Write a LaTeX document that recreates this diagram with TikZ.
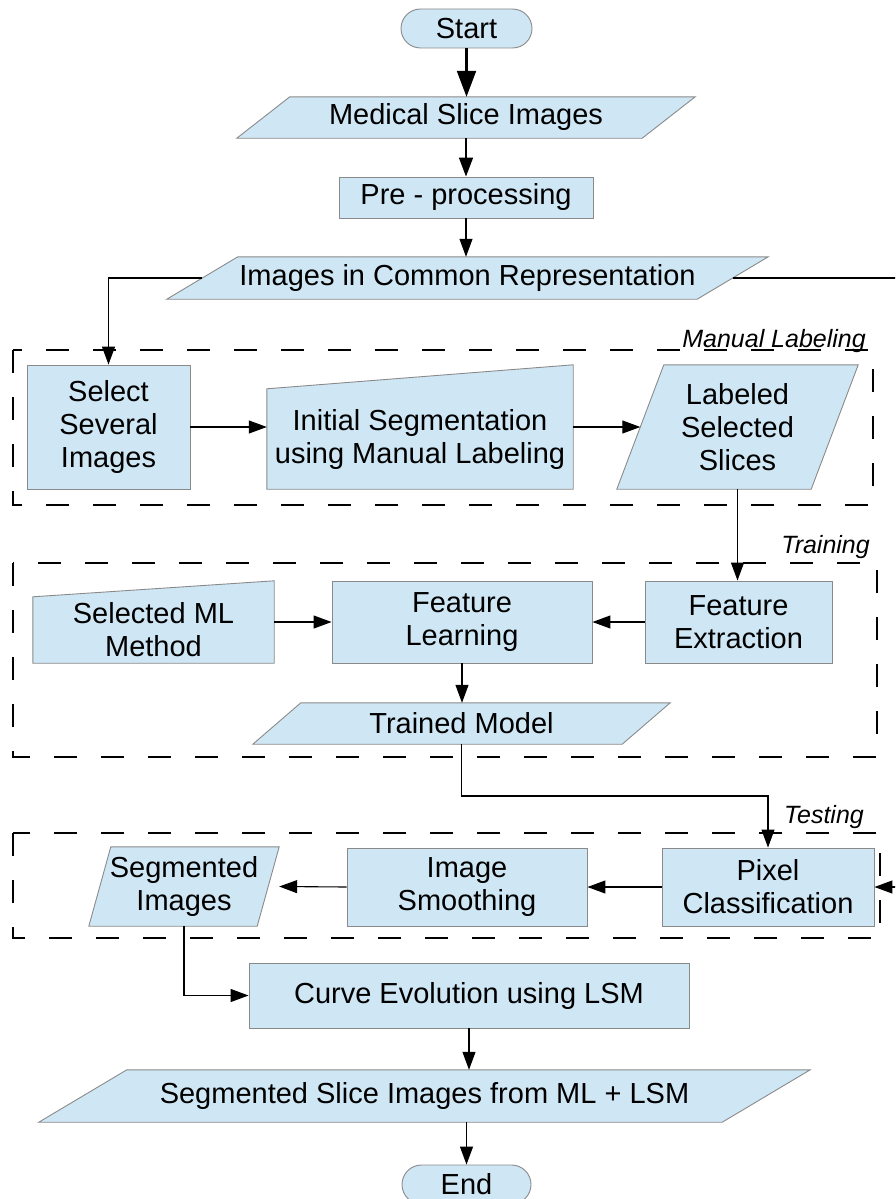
\documentclass[tikz,border=0pt]{standalone}
\usepackage{fontspec}
\setmainfont{Liberation Sans}
\usetikzlibrary{arrows.meta,backgrounds,calc}
\definecolor{boxfill}{HTML}{CFE7F5}
\definecolor{boxline}{HTML}{8A8A8A}
\newcommand\mynodefont{\fontsize{29}{33}\selectfont}
\newcommand\mylabelfont{\fontsize{25}{30}\selectfont\itshape}
\newcommand\paragram[2]{\draw[poly] ([xshift=#2]#1.north west) -- (#1.north east) -- ([xshift=-#2]#1.south east) -- (#1.south west) -- cycle;}
\newcommand\manualin[2]{\draw[poly] (#1.south west) -- (#1.north west) -- ([yshift=#2]#1.north east) -- (#1.south east) -- cycle;}
\tikzset{
  box/.style={draw=boxline, fill=boxfill, line width=0.9pt, inner sep=0pt, align=center, font=\mynodefont},
  body/.style={inner sep=0pt, align=center, font=\mynodefont},
  poly/.style={draw=boxline, fill=boxfill, line width=0.9pt},
  conn/.style={line width=1.1pt, -{Triangle[length=18pt,width=13pt]}},
  connmid/.style={line width=1.6pt, -{Triangle[length=19pt,width=14pt]}},
  connbig/.style={line width=2.2pt, -{Triangle[length=26pt,width=19pt]}},
  group/.style={draw=black, line width=2.6pt, dash pattern=on 23pt off 24pt},
  grouplabel/.style={font=\mylabelfont, anchor=base east, inner sep=0pt},
}
\begin{document}
\begin{tikzpicture}[x=1pt,y=-1pt]
\clip (0,0) rectangle (895,1199);

% groups
\draw[group] (13,350) rectangle (873,505);
\draw[group] (13,563) rectangle (877,757);
\draw[group] (13,833) rectangle (880,938);
\node[grouplabel] (lblman) at (866,347) {Manual Labeling};
\node[grouplabel] (lbltrain) at (870,553) {Training};
\node[grouplabel] (lbltest) at (864,823) {Testing};

% nodes
\node[box, rounded corners=19.5pt, minimum width=131pt, minimum height=39pt] (start) at (466.5,28.5) {Start};
\node[body, minimum width=458pt, minimum height=41pt] (med) at (466,117.5) {Medical Slice Images};
\node[box, minimum width=254pt, minimum height=41pt] (pre) at (466,197.5) {Pre - processing};
\node[body, minimum width=601pt, minimum height=42pt] (icr) at (467.5,278) {Images in Common Representation};

\node[box, minimum width=163pt, minimum height=124pt] (sel) at (108.5,427) {Select\\Several\\Images};
\node[body, minimum width=306pt, minimum height=100pt] (init) at (420,439) {Initial Segmentation\\using Manual Labeling};
\node[body, minimum width=241pt, minimum height=124pt] (lab) at (737.5,427) {Labeled\\Selected\\Slices};

\node[body, minimum width=241pt, minimum height=66pt] (ml) at (153.5,630) {Selected ML\\Method};
\node[box, minimum width=260pt, minimum height=82pt] (fl) at (462,622) {Feature\\Learning};
\node[box, minimum width=187pt, minimum height=82pt] (fe) at (738.5,622) {Feature\\Extraction};
\node[body, minimum width=417pt, minimum height=41pt] (tm) at (461.5,723.5) {Trained Model};

\node[body, minimum width=190pt, minimum height=79pt] (si) at (184,886.5) {Segmented\\Images};
\node[box, minimum width=240pt, minimum height=78pt] (is) at (467,887) {Image\\Smoothing};
\node[box, minimum width=212pt, minimum height=78pt] (pc) at (768,887) {Pixel\\Classification};

\node[box, minimum width=440pt, minimum height=65pt] (ce) at (469,995.5) {Curve Evolution using LSM};
\node[body, minimum width=771pt, minimum height=52pt] (ssi) at (424.5,1096) {Segmented Slice Images from ML + LSM};
\node[box, rounded corners=19.5pt, minimum width=129pt, minimum height=39pt] (stop) at (466.5,1184.5) {End};

% shapes behind text
\begin{pgfonlayer}{background}
\paragram{med}{53pt}
\paragram{icr}{71pt}
\manualin{init}{24pt}
\paragram{lab}{47pt}
\manualin{ml}{16pt}
\paragram{tm}{48pt}
\paragram{si}{22pt}
\paragram{ssi}{88pt}
\end{pgfonlayer}

% helper coordinates
\coordinate (icrW) at ([xshift=35.5pt]icr.west);
\coordinate (icrE) at ([xshift=-35.5pt]icr.east);
\coordinate (labW) at ([xshift=23.5pt]lab.west);
\coordinate (loop) at (915,600);
\coordinate (tmbend) at (600,796);

% connectors
\draw[connbig] (start.south) -- (start.south |- med.north);
\draw[connmid] (med.south) -- (med.south |- pre.north);
\draw[conn] (pre.south) -- (pre.south |- icr.north);
\draw[conn] (icrW) -| (sel.north);
\draw[conn] (icrE) -| (loop) |- (pc.east);
\draw[conn] (sel.east) -- (sel.east -| init.west);
\draw[conn] (init.east |- lab.center) -- (labW);
\draw[conn] (lab.south) -- (lab.south |- fe.north);
\draw[conn] (ml.east |- fl.center) -- (fl.west);
\draw[conn] (fe.west) -- (fl.east);
\draw[conn] (fl.south) -- (fl.south |- tm.north);
\draw[conn] (tm.south) |- (tmbend) -| (pc.north);
\draw[conn] (pc.west) -- (is.east);
\draw[conn] (is.west) -- (si.east);
\draw[conn] (si.south) |- (ce.west);
\draw[conn] (ce.south) -- (ce.south |- ssi.north);
\draw[conn] (stop.north |- ssi.south) -- (stop.north);
\end{tikzpicture}
\end{document}
